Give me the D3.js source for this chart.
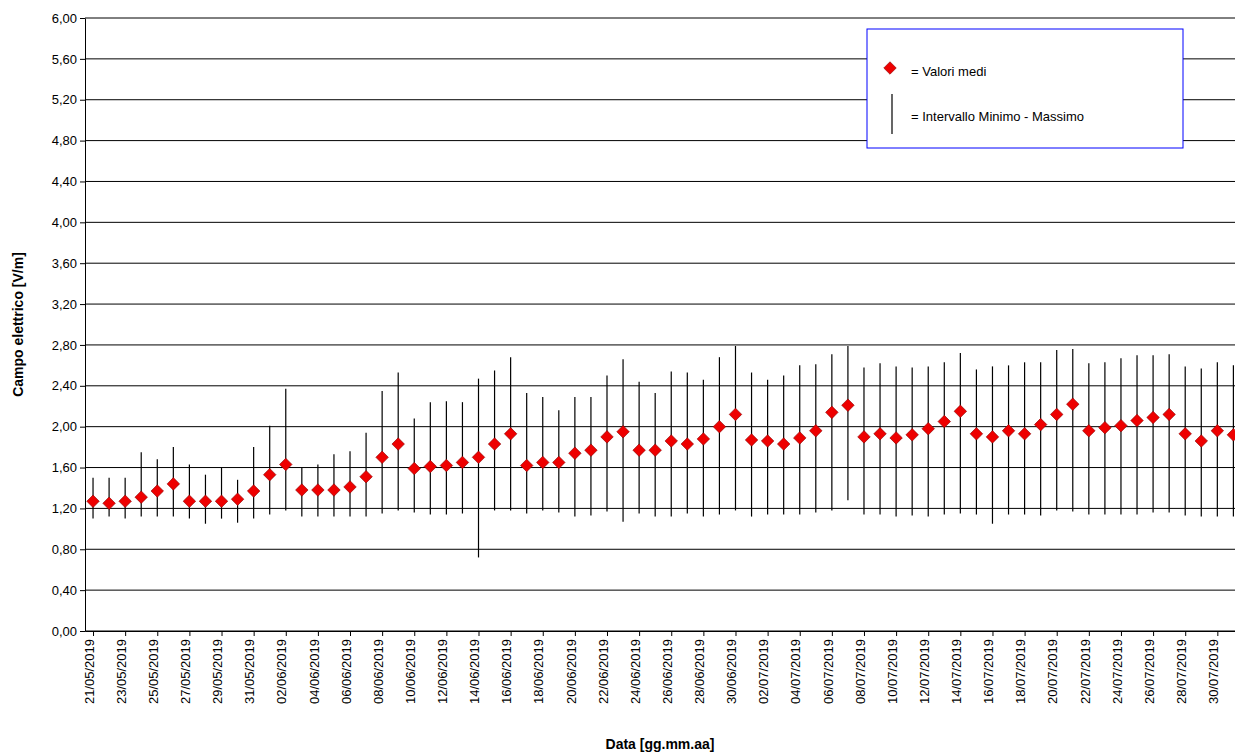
<!DOCTYPE html>
<html><head><meta charset="utf-8">
<script src="https://cdn.jsdelivr.net/npm/d3@7"></script>
<style>body{margin:0;background:#fff}text{font-family:Arial,"Liberation Sans",sans-serif}</style>
</head><body><svg id="c" width="1235" height="755"></svg>
<script>
const dates=["21/05","22/05","23/05","24/05","25/05","26/05","27/05","28/05","29/05","30/05","31/05","01/06","02/06","03/06","04/06","05/06","06/06","07/06","08/06","09/06","10/06","11/06","12/06","13/06","14/06","15/06","16/06","17/06","18/06","19/06","20/06","21/06","22/06","23/06","24/06","25/06","26/06","27/06","28/06","29/06","30/06","01/07","02/07","03/07","04/07","05/07","06/07","07/07","08/07","09/07","10/07","11/07","12/07","13/07","14/07","15/07","16/07","17/07","18/07","19/07","20/07","21/07","22/07","23/07","24/07","25/07","26/07","27/07","28/07","29/07","30/07","31/07"].map(d=>d+"/2019");
const means=[1.27,1.25,1.27,1.31,1.37,1.44,1.27,1.27,1.27,1.29,1.37,1.53,1.63,1.38,1.38,1.38,1.41,1.51,1.70,1.83,1.59,1.61,1.62,1.65,1.70,1.83,1.93,1.62,1.65,1.65,1.74,1.77,1.90,1.95,1.77,1.77,1.86,1.83,1.88,2.00,2.12,1.87,1.86,1.83,1.89,1.96,2.14,2.21,1.90,1.93,1.89,1.92,1.98,2.05,2.15,1.93,1.90,1.96,1.93,2.02,2.12,2.22,1.96,1.99,2.01,2.06,2.09,2.12,1.93,1.86,1.96,1.92];
const mins=[1.10,1.12,1.10,1.12,1.12,1.12,1.10,1.05,1.10,1.06,1.10,1.14,1.18,1.12,1.12,1.12,1.12,1.12,1.15,1.18,1.16,1.14,1.14,1.15,0.72,1.18,1.18,1.15,1.18,1.16,1.12,1.13,1.17,1.07,1.15,1.12,1.12,1.15,1.12,1.14,1.18,1.12,1.14,1.14,1.14,1.16,1.18,1.28,1.14,1.14,1.12,1.13,1.12,1.14,1.15,1.14,1.05,1.14,1.14,1.13,1.18,1.17,1.14,1.14,1.14,1.14,1.16,1.16,1.13,1.12,1.12,1.12];
const maxs=[1.50,1.50,1.50,1.75,1.68,1.80,1.63,1.53,1.60,1.48,1.80,2.01,2.37,1.60,1.63,1.73,1.76,1.94,2.35,2.53,2.08,2.24,2.25,2.24,2.47,2.55,2.68,2.33,2.29,2.16,2.29,2.29,2.50,2.66,2.44,2.33,2.54,2.53,2.46,2.68,2.79,2.53,2.46,2.50,2.60,2.61,2.71,2.79,2.58,2.62,2.59,2.58,2.59,2.63,2.72,2.56,2.59,2.60,2.63,2.63,2.75,2.76,2.62,2.63,2.67,2.70,2.70,2.71,2.59,2.57,2.63,2.60];
const yTicks=[0,0.4,0.8,1.2,1.6,2.0,2.4,2.8,3.2,3.6,4.0,4.4,4.8,5.2,5.6,6.0];

const svg=d3.select("#c");
const L=85,R=1235,T=18,B=631;
const x=d3.scaleLinear().domain([-0.5,71.1]).range([L,R]);
const y=d3.scaleLinear().domain([0,6]).range([B,T]);
const fmt=d=>d.toFixed(2).replace(".",",");

const g=svg.append("g");
g.selectAll("line.grid").data(yTicks).join("line").attr("x1",L).attr("x2",R)
 .attr("y1",d=>y(d)).attr("y2",d=>y(d)).attr("stroke","#000").attr("stroke-width",1);
svg.append("g").attr("transform",`translate(${L},0)`)
 .call(d3.axisLeft(y).tickValues(yTicks).tickFormat(fmt).tickSize(5).tickSizeOuter(0))
 .call(a=>{a.select(".domain").attr("stroke","#000");a.selectAll("text").attr("font-size",13).attr("fill","#000");});
const xi=d3.range(0,dates.length,2).filter(i=>i<71);
const xa=svg.append("g").attr("transform",`translate(0,${B})`)
 .call(d3.axisBottom(x).tickValues(xi).tickFormat(i=>dates[i]).tickSize(5).tickSizeOuter(0));
xa.select(".domain").attr("stroke","#000");
xa.selectAll("text").attr("font-size",13).attr("fill","#000")
 .attr("transform","rotate(-90)").attr("text-anchor","end").attr("x",-8).attr("y",-4).attr("dy","0.32em");

const idx=d3.range(dates.length);
svg.append("defs").append("clipPath").attr("id","cp").append("rect").attr("x",L).attr("y",0).attr("width",R-L).attr("height",B+1);
const pg=svg.append("g").attr("clip-path","url(#cp)");
pg.selectAll("line.err").data(idx).join("line").attr("x1",i=>x(i)).attr("x2",i=>x(i))
 .attr("y1",i=>y(mins[i])).attr("y2",i=>y(maxs[i])).attr("stroke","#000").attr("stroke-width",1.2);
const dia=d3.symbol().type(d3.symbolDiamond2).size(100);
pg.selectAll("path.m").data(idx).join("path").attr("d",dia)
 .attr("transform",i=>`translate(${x(i)},${y(means[i])})`).attr("fill","#e00").attr("stroke","#800").attr("stroke-width",0.6);

svg.append("text").attr("x",660).attr("y",749).attr("text-anchor","middle").attr("font-size",14).attr("font-weight","bold").text("Data [gg.mm.aa]");
svg.append("text").attr("transform",`translate(23,${(T+B)/2}) rotate(-90)`).attr("text-anchor","middle").attr("font-size",14).attr("font-weight","bold").text("Campo elettrico [V/m]");

const lg=svg.append("g");
lg.append("rect").attr("x",867).attr("y",29).attr("width",316).attr("height",119).attr("fill","#fff").attr("stroke","#00f").attr("stroke-width",1);
lg.append("path").attr("d",dia).attr("transform","translate(890,68)").attr("fill","#e00").attr("stroke","#800").attr("stroke-width",0.6);
lg.append("text").attr("x",911).attr("y",76).attr("font-size",13).text("= Valori medi");
lg.append("line").attr("x1",892).attr("x2",892).attr("y1",94).attr("y2",134).attr("stroke","#000").attr("stroke-width",1.2);
lg.append("text").attr("x",911).attr("y",121).attr("font-size",13).text("= Intervallo Minimo - Massimo");
</script></body></html>
